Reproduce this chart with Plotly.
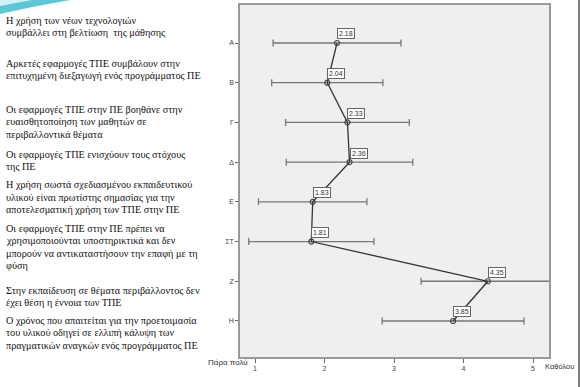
import plotly.graph_objects as go

W, H = 580, 387

categories = ["Α", "Β", "Γ", "Δ", "Ε", "ΣΤ", "Ζ", "Η"]
means = [2.18, 2.04, 2.33, 2.36, 1.83, 1.81, 4.35, 3.85]
errors = [0.92, 0.80, 0.89, 0.91, 0.78, 0.90, 0.96, 1.02]
x_ticks = [1, 2, 3, 4, 5]
x_left_label = "Πάρα πολύ"
x_right_label = "Καθόλου"

statements = [
    "Η χρήση των νέων τεχνολογιών<br>συμβάλλει στη βελτίωση  της μάθησης",
    "Αρκετές εφαρμογές ΤΠΕ συμβάλουν στην<br>επιτυχημένη διεξαγωγή ενός προγράμματος ΠΕ",
    "Οι εφαρμογές ΤΠΕ στην ΠΕ βοηθάνε στην<br>ευαισθητοποίηση των μαθητών σε<br>περιβαλλοντικά θέματα",
    "Οι εφαρμογές ΤΠΕ ενισχύουν τους στόχους<br>της ΠΕ",
    "Η χρήση σωστά σχεδιασμένου εκπαιδευτικού<br>υλικού είναι πρωτίστης σημασίας για την<br>αποτελεσματική χρήση των ΤΠΕ στην ΠΕ",
    "Οι εφαρμογές ΤΠΕ στην ΠΕ πρέπει να<br>χρησιμοποιούνται υποστηρικτικά και δεν<br>μπορούν να αντικαταστήσουν την επαφή με τη<br>φύση",
    "Στην εκπαίδευση σε θέματα περιβάλλοντος δεν<br>έχει θέση η έννοια των ΤΠΕ",
    "Ο χρόνος που απαιτείται για την προετοιμασία<br>του υλικού οδηγεί σε ελλιπή κάλυψη των<br>πραγματικών αναγκών ενός προγράμματος ΠΕ",
]
statement_first_line_px = [20, 63, 109, 154, 184.5, 228, 290, 320]
line_step = 12.6

def px(x):
    return x / W

def py(y):
    return 1 - y / H

fig = go.Figure()
fig.add_trace(go.Scatter(
    x=means, y=categories, mode="lines+markers",
    line=dict(color="#333333", width=1.3),
    marker=dict(symbol="circle-open", size=5, color="#444444", line=dict(width=1.2)),
    error_x=dict(type="data", array=errors, symmetric=True, color="#777777",
                 thickness=1.3, width=3.5),
    showlegend=False, cliponaxis=True, hoverinfo="skip",
))

annotations = []
for c, m in zip(categories, means):
    annotations.append(dict(
        x=m, y=c, xref="x", yref="y", text=f"{m:.2f}", showarrow=False,
        xshift=9, yshift=9, font=dict(family="Arial", size=7, color="#333333"),
        bgcolor="white", bordercolor="#666666", borderwidth=1, borderpad=1,
    ))

for s, y0 in zip(statements, statement_first_line_px):
    for i, line in enumerate(s.split("<br>")):
        annotations.append(dict(
            x=px(4), y=py(y0 + i * line_step), xref="paper", yref="paper", text=line,
            showarrow=False, xanchor="left", yanchor="middle", align="left",
            font=dict(family="Liberation Serif", size=10.2, color="#111111"),
        ))

annotations.append(dict(x=px(228), y=py(369), xref="paper", yref="paper",
                        text=x_left_label, showarrow=False,
                        font=dict(family="Arial", size=8, color="#333333")))
annotations.append(dict(x=px(543), y=py(373), xref="paper", yref="paper",
                        text=x_right_label, showarrow=False, xanchor="left",
                        font=dict(family="Arial", size=7.5, color="#333333")))

shapes = [
    dict(type="path", xref="paper", yref="paper",
         path=f"M 0,1 L {px(70)},1 Q {px(35)},{py(6)} 0,{py(14)} Z",
         fillcolor="#5cc8d6", line=dict(width=0), layer="above"),
    dict(type="path", xref="paper", yref="paper",
         path=f"M 0,1 L {px(32)},1 Q {px(15)},{py(3)} 0,{py(6)} Z",
         fillcolor="#d3f1f5", line=dict(width=0), layer="above"),
    dict(type="line", xref="paper", yref="paper", x0=px(579), x1=px(579), y0=0, y1=1,
         line=dict(color="#555555", width=1.5)),
]

fig.update_layout(
    width=W, height=H, margin=dict(l=0, r=0, t=0, b=0),
    paper_bgcolor="white", plot_bgcolor="#efefef",
    annotations=annotations, shapes=shapes,
    xaxis=dict(domain=[px(240), px(549)], range=[0.784, 5.23],
               tickvals=x_ticks, ticks="outside", ticklen=4, tickcolor="#666666",
               tickfont=dict(family="Arial", size=7, color="#444444"),
               showgrid=False, zeroline=False, showline=True, mirror=True,
               linecolor="#999999", linewidth=1.5),
    yaxis=dict(domain=[py(357), py(5)], type="category", categoryorder="array",
               categoryarray=categories, range=[7.907, -0.957],
               ticks="outside", ticklen=3, tickcolor="#666666",
               tickfont=dict(family="Arial", size=7, color="#444444"),
               showgrid=False, zeroline=False, showline=True, mirror=True,
               linecolor="#999999", linewidth=1.5),
)

fig.write_html("out.html", config={"displayModeBar": False},
               post_script="document.body.style.margin='0px';")
